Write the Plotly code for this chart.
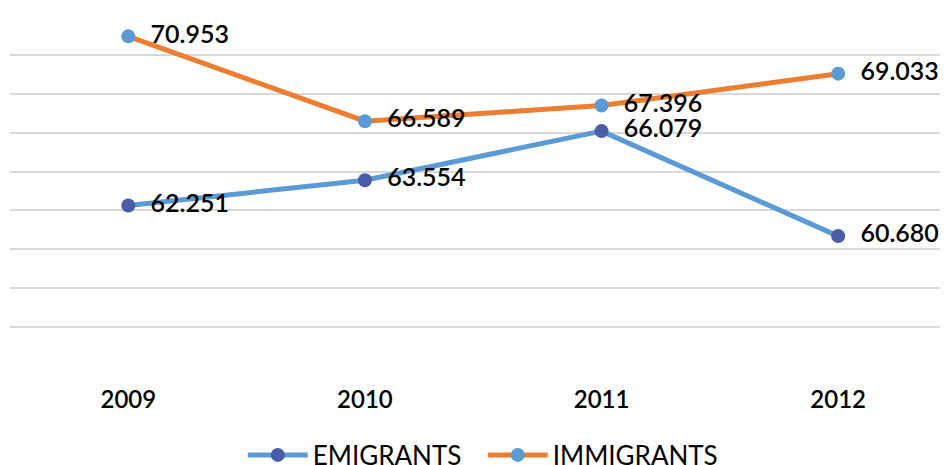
import plotly.graph_objects as go

years = ["2009", "2010", "2011", "2012"]
emigrants = [62.251, 63.554, 66.079, 60.680]
immigrants = [70.953, 66.589, 67.396, 69.033]

font = "Lato, Noto Sans, sans-serif"

fig = go.Figure()
fig.add_trace(go.Scatter(
    x=years, y=emigrants, name="EMIGRANTS", mode="lines+markers+text",
    line=dict(color="#5B9BD5", width=5),
    marker=dict(color="#4A5DA9", size=14),
    text=[f"  {v:.3f}" for v in emigrants], textposition="middle right",
    textfont=dict(size=25, color="black", family=font, weight=600),
    cliponaxis=False,
))
fig.add_trace(go.Scatter(
    x=years, y=immigrants, name="IMMIGRANTS", mode="lines+markers+text",
    line=dict(color="#ED7D31", width=5),
    marker=dict(color="#5B9BD5", size=14),
    text=[f"  {v:.3f}" for v in immigrants], textposition="middle right",
    textfont=dict(size=25, color="black", family=font, weight=600),
    cliponaxis=False,
))

fig.update_layout(
    width=940, height=457,
    margin=dict(l=2, r=0, t=7, b=98, autoexpand=False),
    plot_bgcolor="white", paper_bgcolor="white",
    font=dict(family=font, size=24, color="black"),
    showlegend=True,
    legend=dict(orientation="h", x=0.504, xanchor="center", y=-0.25, yanchor="middle",
                font=dict(size=26), itemwidth=60, entrywidth=165),
    xaxis=dict(type="category", range=[-0.5, 3.464], showgrid=False,
               ticks="", ticklabelstandoff=16,
               tickfont=dict(size=24, weight=600)),
    yaxis=dict(range=[53.95, 72.05], dtick=2, tick0=54, showticklabels=False,
               gridcolor="#D9D9D9", gridwidth=2, zeroline=False),
)

fig.write_html("out.html")
